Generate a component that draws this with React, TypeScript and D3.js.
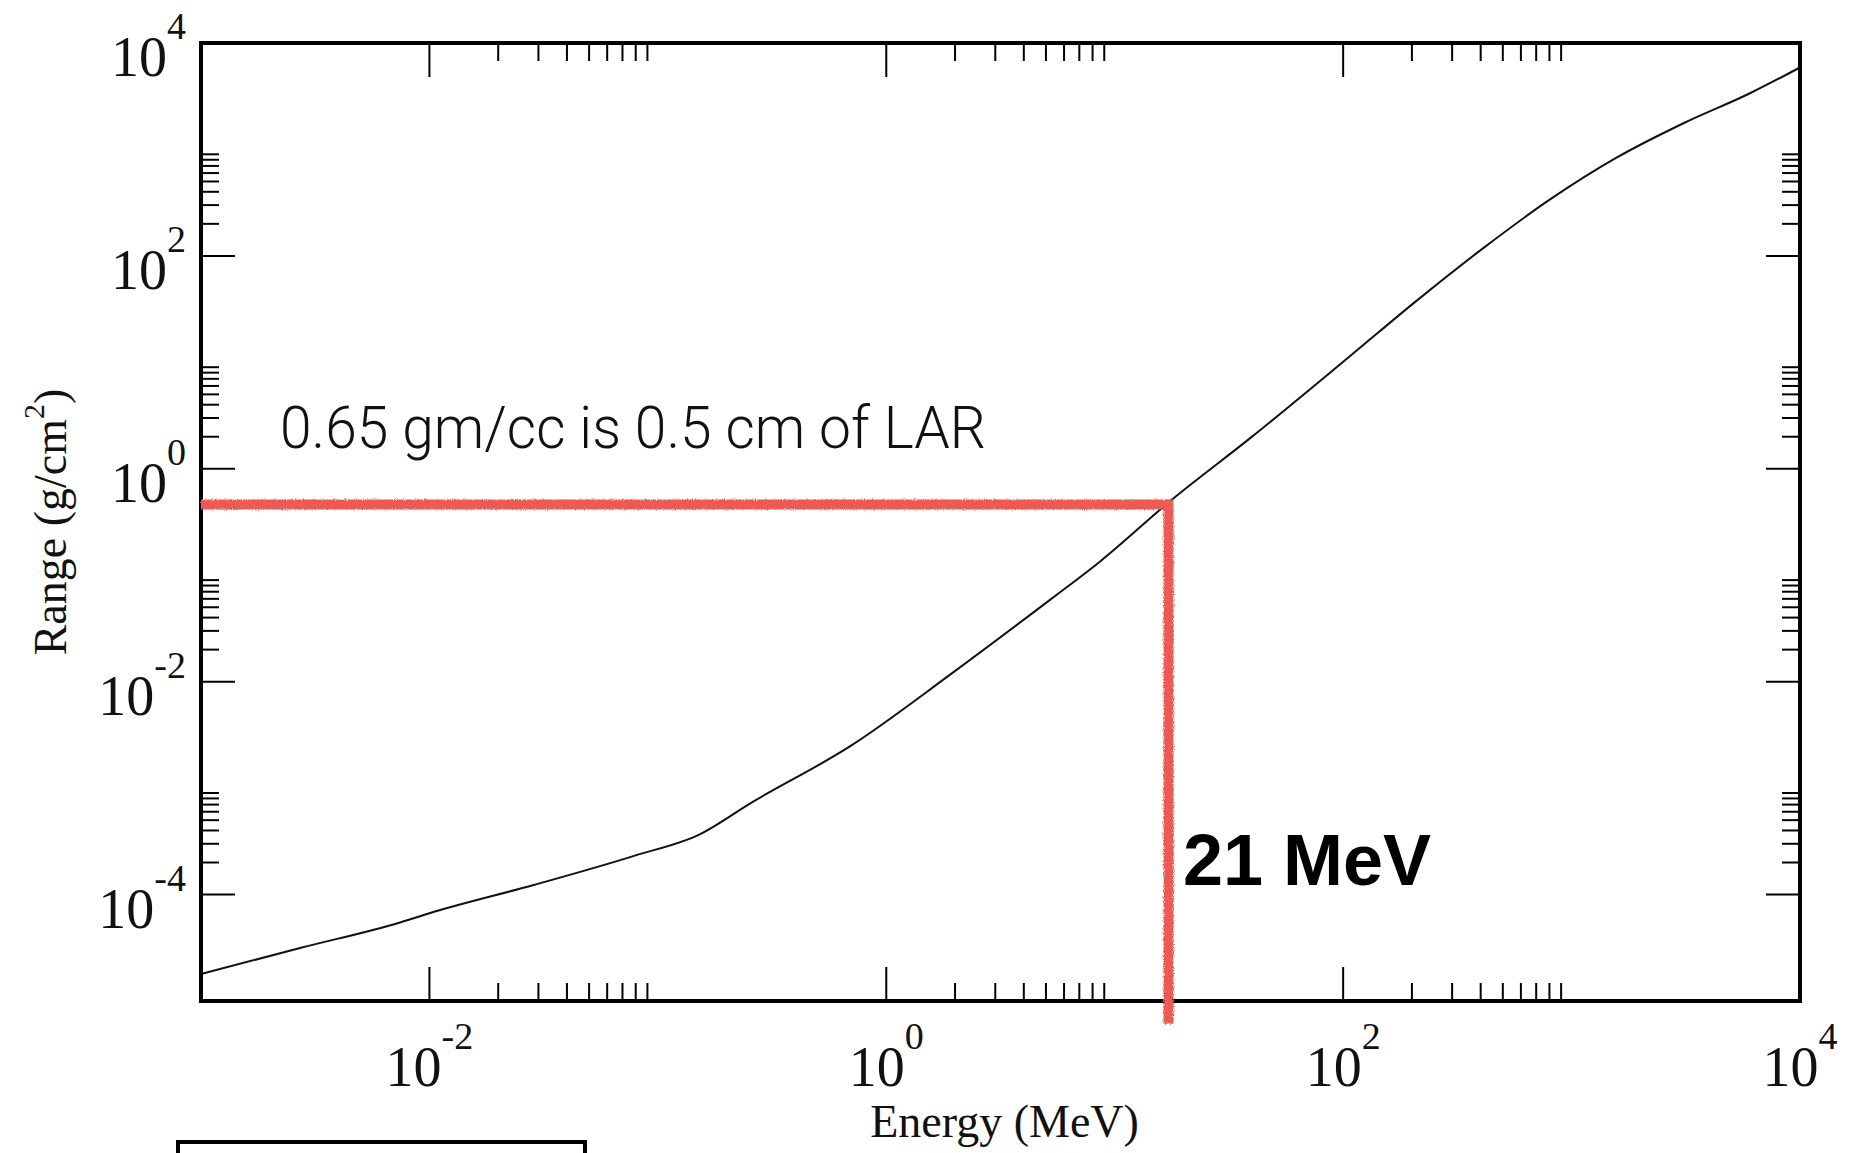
import React from "react";
import * as d3 from "d3";

// Curve: range vs energy
const energies = [0.001, 0.00274, 0.0075, 0.01, 0.0286, 0.0787, 0.154, 0.255, 0.698, 1.91, 5.24, 8.66, 17.8, 39.3, 107, 210, 412, 805, 1580, 3090, 6040, 10000];
const ranges = [1.795e-5, 3.16e-5, 5.5e-5, 6.68e-5, 1.23e-4, 2.31e-4, 3.72e-4, 7.24e-4, 2.49e-3, 1.17e-2, 5.93e-2, 0.1355, 0.513, 1.95, 11.4, 38.0, 118.9, 339, 841, 1762, 3373, 5888];

const xDomain = [1e-3, 1e4];
const yDomain = [1e-5, 1e4];
const xMajorExps = [-2, 0, 2, 4];
const yMajorExps = [-4, -2, 0, 2, 4];
const minorMultipliers = [2, 3, 4, 5, 6, 7, 8, 9];

// Hand-drawn marker
const markerEnergy = 17.2;
const markerRange = 0.462;
const markerBottomRange = 6.1e-6;

const annotationText = "0.65 gm/cc is 0.5 cm of LAR";
const energyLabel = "21 MeV";
const xTitle = "Energy (MeV)";

export default function App() {
  const W = 1852, H = 1153;
  const left = 201, right = 1800, top = 43, bottom = 1001;
  const x = d3.scaleLog().domain(xDomain).range([left, right]);
  const y = d3.scaleLog().domain(yDomain).range([bottom, top]);

  const line = d3
    .line<number>()
    .x((_, i) => x(energies[i]))
    .y((_, i) => y(ranges[i]))
    .curve(d3.curveMonotoneX);
  const curvePath = line(energies) || "";

  const majorLen = 34, minorLen = 18;
  const serif = "'Liberation Serif', 'Times New Roman', serif";

  const xMajors = xMajorExps.map((e) => Math.pow(10, e));
  const xMinors: number[] = [];
  xMajorExps.forEach((e) =>
    minorMultipliers.forEach((m) => {
      const v = m * Math.pow(10, e);
      if (v > xDomain[0] && v < xDomain[1]) xMinors.push(v);
    })
  );
  const yMajors = yMajorExps.map((e) => Math.pow(10, e));
  const yMinors: number[] = [];
  yMajorExps.forEach((e) =>
    minorMultipliers.forEach((m) => {
      const v = m * Math.pow(10, e);
      if (v > yDomain[0] && v < yDomain[1]) yMinors.push(v);
    })
  );

  const redPts: [number, number][] = [
    [xDomain[0], markerRange],
    [markerEnergy, markerRange],
    [markerEnergy, markerBottomRange],
  ];
  const redPath = d3.line<[number, number]>().x((d) => x(d[0])).y((d) => y(d[1]))(redPts) || "";

  return (
    <svg
      width={W}
      height={H}
      style={{ position: "absolute", left: 0, top: 0, display: "block", background: "#fff" }}
    >
      <defs>
        <filter id="rough" x="-5%" y="-5%" width="110%" height="110%">
          <feTurbulence type="fractalNoise" baseFrequency="0.9" numOctaves="2" seed="3" result="n" />
          <feDisplacementMap in="SourceGraphic" in2="n" scale="4" xChannelSelector="R" yChannelSelector="G" />
        </filter>
      </defs>

      {/* ticks */}
      <g stroke="#000" strokeWidth={2}>
        {xMajors.map((v) => (
          <g key={"xM" + v}>
            <line x1={x(v)} x2={x(v)} y1={bottom} y2={bottom - majorLen} />
            <line x1={x(v)} x2={x(v)} y1={top} y2={top + majorLen} />
          </g>
        ))}
        {xMinors.map((v) => (
          <g key={"xm" + v}>
            <line x1={x(v)} x2={x(v)} y1={bottom} y2={bottom - minorLen} />
            <line x1={x(v)} x2={x(v)} y1={top} y2={top + minorLen} />
          </g>
        ))}
        {yMajors.map((v) => (
          <g key={"yM" + v}>
            <line x1={left} x2={left + majorLen} y1={y(v)} y2={y(v)} />
            <line x1={right} x2={right - majorLen} y1={y(v)} y2={y(v)} />
          </g>
        ))}
        {yMinors.map((v) => (
          <g key={"ym" + v}>
            <line x1={left} x2={left + minorLen} y1={y(v)} y2={y(v)} />
            <line x1={right} x2={right - minorLen} y1={y(v)} y2={y(v)} />
          </g>
        ))}
      </g>

      {/* curve */}
      <path d={curvePath} fill="none" stroke="#111" strokeWidth={2} />

      {/* frame */}
      <rect x={left} y={top} width={right - left} height={bottom - top} fill="none" stroke="#000" strokeWidth={4} />

      {/* tick labels and titles */}
      <g fontFamily={serif} fill="#111">
        {xMajorExps.map((e) => (
          <text key={"xl" + e} x={x(Math.pow(10, e))} y={1086} fontSize={56} textAnchor="middle">
            10
            <tspan fontSize={38} dy={-37}>{String(e)}</tspan>
          </text>
        ))}
        {yMajorExps.map((e) => (
          <text key={"yl" + e} x={186} y={y(Math.pow(10, e)) + 33} fontSize={56} textAnchor="end">
            10
            <tspan fontSize={38} dy={-37}>{String(e)}</tspan>
          </text>
        ))}
        <text x={(left + right) / 2 + 4} y={1137} fontSize={46} textAnchor="middle">
          {xTitle}
        </text>
        <text transform={`translate(66, ${(top + bottom) / 2}) rotate(-90)`} fontSize={46} textAnchor="middle">
          Range (g/cm
          <tspan fontSize={30} dy={-22}>2</tspan>
          <tspan dy={22}>)</tspan>
        </text>
      </g>

      {/* hand-drawn red marker */}
      <path
        d={redPath}
        fill="none"
        stroke="#ec5a53"
        strokeWidth={10}
        strokeLinejoin="miter"
        filter="url(#rough)"
      />

      {/* annotations */}
      <text
        x={280}
        y={448}
        fontFamily="Roboto, 'Open Sans', sans-serif"
        fontWeight={300}
        fontSize={60}
        textLength={706}
        lengthAdjust="spacingAndGlyphs"
        fill="#111"
      >
        {annotationText}
      </text>
      <text
        x={1183}
        y={885}
        fontFamily="'Liberation Sans', Arial, sans-serif"
        fontWeight={700}
        fontSize={72}
        fill="#000"
      >
        {energyLabel}
      </text>

      {/* cropped box at the bottom */}
      <rect x={178} y={1142} width={407} height={40} fill="none" stroke="#000" strokeWidth={4} />
    </svg>
  );
}
